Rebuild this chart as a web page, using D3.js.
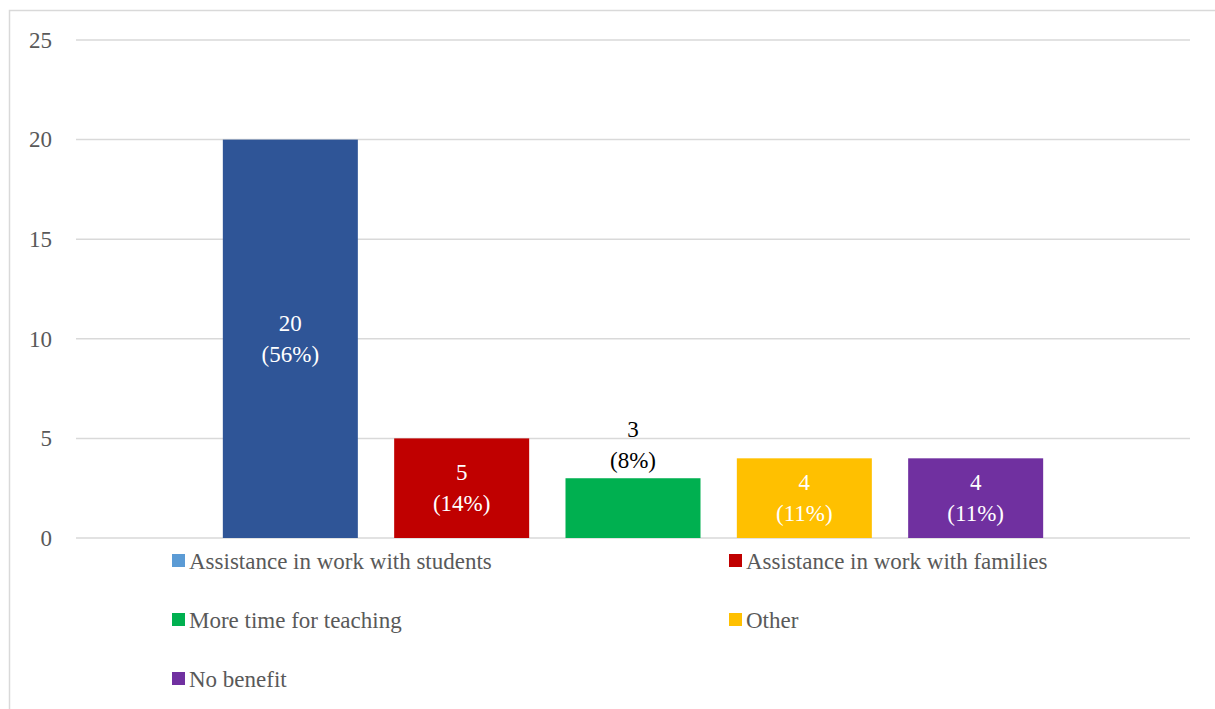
<!DOCTYPE html>
<html><head><meta charset="utf-8">
<script src="https://cdn.jsdelivr.net/npm/d3@7"></script>
<style>html,body{margin:0;padding:0;background:#fff;}svg{display:block;}</style>
</head><body>
<svg id="chart" width="1215" height="709"></svg>
<script>
const categories = ["Assistance in work with students","Assistance in work with families","More time for teaching","Other","No benefit"];
const values = [20, 5, 3, 4, 4];
const percents = ["56%","14%","8%","11%","11%"];
const yTicks = [0,5,10,15,20,25];
const barColors = ["#2F5597","#C00000","#00B050","#FFC000","#7030A0"];
const legendColors = ["#5B9BD5","#C00000","#00B050","#FFC000","#7030A0"];
const labelInside = [true,true,false,true,true];

(function(){
const FONT = '"Liberation Serif"';
const FS = "23px";
const svg = d3.select("#chart");
// outer border
svg.append("rect").attr("x",9.5).attr("y",10.5).attr("width",1215).attr("height",709)
  .attr("fill","none").attr("stroke","#d9d9d9").attr("stroke-width",1.5);

const pLeft = 76, pRight = 1190, pTop = 40, pBottom = 538;
const y = d3.scaleLinear().domain([0,25]).range([pBottom, pTop]);
const x = d3.scaleBand().domain(categories).range([pLeft, pRight]).paddingInner(0.212).paddingOuter(0.857);

// gridlines
svg.append("g").selectAll("line").data(yTicks).join("line")
  .attr("x1",pLeft).attr("x2",pRight).attr("y1",d=>y(d)).attr("y2",d=>y(d))
  .attr("stroke","#d9d9d9").attr("stroke-width",1.5);

// y axis labels
const yAxis = d3.axisLeft(y).tickValues(yTicks).tickSize(0).tickPadding(0);
const gy = svg.append("g").attr("transform","translate(52,0)").call(yAxis);
gy.select(".domain").remove();
gy.selectAll("text").style("font-family",FONT).style("font-size",FS).attr("fill","#595959").attr("dy","0.32em");

// bars
svg.append("g").selectAll("rect").data(categories).join("rect")
  .attr("x",d=>x(d)).attr("width",x.bandwidth())
  .attr("y",(d,i)=>y(values[i])).attr("height",(d,i)=>y(0)-y(values[i]))
  .attr("fill",(d,i)=>barColors[i]);

// labels
const lg = svg.append("g").attr("text-anchor","middle");
categories.forEach((c,i)=>{
  const cx = x(c) + x.bandwidth()/2;
  let b1;
  if (labelInside[i]) { b1 = (y(values[i]) + y(0))/2 - 8; }
  else { b1 = y(values[i]) - 41; }
  const col = labelInside[i] ? "#ffffff" : "#000000";
  lg.append("text").attr("x",cx).attr("y",b1).attr("fill",col)
    .style("font-family",FONT).style("font-size",FS).text(values[i]);
  lg.append("text").attr("x",cx).attr("y",b1+31).attr("fill",col)
    .style("font-family",FONT).style("font-size",FS).text("(" + percents[i] + ")");
});

// legend
const legPos = [[172,569],[729,569],[172,628],[729,628],[172,687]];
const leg = svg.append("g");
categories.forEach((c,i)=>{
  const [lx,ly] = legPos[i];
  leg.append("rect").attr("x",lx).attr("y",ly-15).attr("width",13).attr("height",13).attr("fill",legendColors[i]);
  leg.append("text").attr("x",lx+17).attr("y",ly).attr("fill","#595959")
    .style("font-family",FONT).style("font-size",FS).text(c);
});
})();
</script>
</body></html>
